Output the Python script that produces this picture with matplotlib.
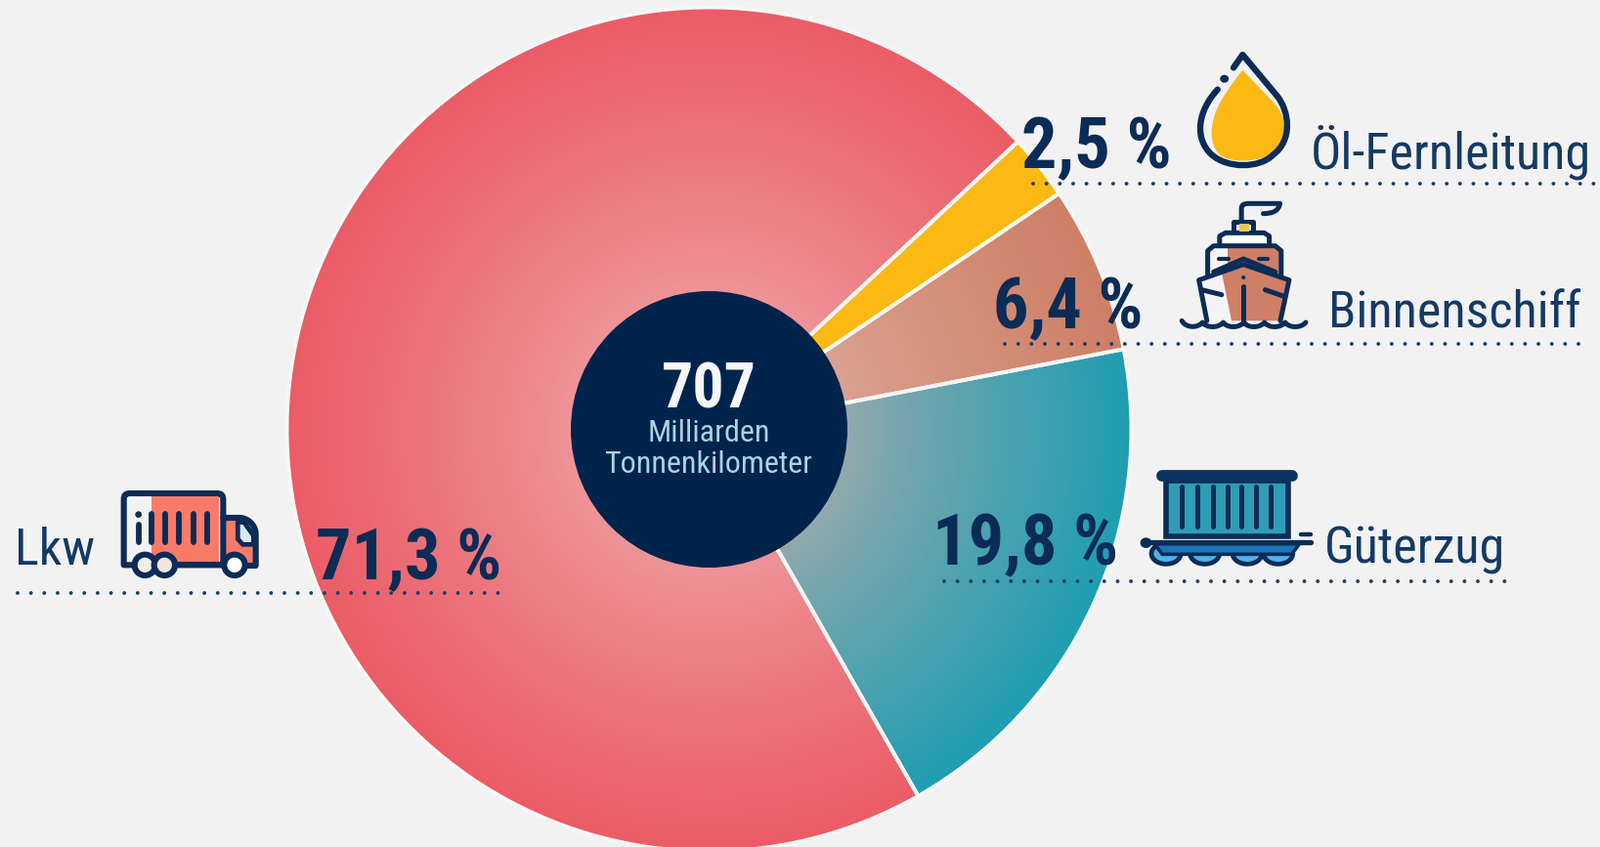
from __future__ import annotations

import matplotlib

matplotlib.use("Agg")
import matplotlib.pyplot as plt
import numpy as np
from matplotlib.colors import to_rgb
from matplotlib.patches import Circle, Ellipse, PathPatch, Polygon, Rectangle
from matplotlib.path import Path
from matplotlib.transforms import Affine2D

WIDTH, HEIGHT = 1637, 867
TOTAL = "707"
UNIT_LINES = ["Milliarden", "Tonnenkilometer"]

# Shares in percent, counter-clockwise from the upper right edge of the Lkw slice
modes = ["Lkw", "Güterzug", "Binnenschiff", "Öl-Fernleitung"]
shares = [71.3, 19.8, 6.4, 2.5]

NAVY = "#0B2C56"
HOLE = "#00234B"
BACKGROUND = "#F2F2F2"
CENTER = (725.5, HEIGHT - 439.5)
RADIUS = 432
HOLE_RADIUS = 141.5
FONT = ["Roboto Condensed", "Archivo Narrow", "Liberation Sans", "DejaVu Sans"]

slice_colors = {
    "Lkw": ("#EE9599", "#EB5C66"),
    "Güterzug": ("#93A9AC", "#1F9EB2"),
    "Binnenschiff": ("#DAA291", "#CE7F66"),
    "Öl-Fernleitung": ("#FDB913", "#FDB913"),
}
# percent x, percent baseline, name x, name baseline, dotted line x0, x1, y
label_layout = {
    "Lkw": (323, 593, 15, 578, 18, 512, 607),
    "Güterzug": (954, 578, 1355, 577, 966, 1541, 595),
    "Binnenschiff": (1016, 336, 1359, 336, 1028, 1617, 352),
    "Öl-Fernleitung": (1045, 172, 1341, 172, 1057, 1632, 188),
}


def flip(y):
    return HEIGHT - y


def make_path(*segments):
    verts, codes = [], []
    for seg in segments:
        if len(seg) == 3 and isinstance(seg[0], tuple):
            verts += list(seg)
            codes += [Path.CURVE4] * 3
        else:
            verts.append(seg)
            codes.append(Path.LINETO if codes else Path.MOVETO)
    return Path(verts, codes)


def radial_fill(ax, wedge, inner, outer):
    xx, yy = np.meshgrid(np.arange(WIDTH) + 0.5, np.arange(HEIGHT) + 0.5)
    dist = np.hypot(xx - CENTER[0], yy - CENTER[1])
    t = np.clip((dist - HOLE_RADIUS) / (RADIUS - HOLE_RADIUS), 0, 1)[..., None] ** 0.85
    rgb = (1 - t) * np.array(to_rgb(inner)) + t * np.array(to_rgb(outer))
    im = ax.imshow(rgb, extent=(0, WIDTH, 0, HEIGHT), origin="lower", zorder=1, interpolation="bilinear")
    im.set_clip_path(wedge)


def icon_transform(ax, x0, y0, sx, sy=3.0):
    return Affine2D().scale(1 / sx, -1 / sy).translate(x0, HEIGHT - y0) + ax.transData


def stroke(ax, tr, path, lw=3.4, fc="none", ec=NAVY, z=6):
    ax.add_patch(PathPatch(path, fc=fc, ec=ec, lw=lw, transform=tr, zorder=z, capstyle="round", joinstyle="round"))


def draw_drop(ax):
    tr = icon_transform(ax, 1000, 30, 2.4615)
    gold = make_path(
        (668, 125), (750, 230),
        ((785, 280), (778, 345), (742, 380)),
        ((715, 408), (635, 412), (610, 385)),
        ((580, 350), (588, 285), (605, 240)),
        ((618, 205), (645, 160), (668, 125)),
    )
    stroke(ax, tr, gold, lw=0, fc="#FDB913", ec="none", z=5)
    outline = make_path(
        (645, 118), (668, 78), (755, 205),
        ((785, 250), (795, 340), (745, 385)),
        ((710, 428), (630, 428), (590, 385)),
        ((545, 335), (555, 250), (605, 185)),
    )
    stroke(ax, tr, outline, lw=4.6)
    ax.add_patch(Ellipse((622, 152), 22, 24, fc=NAVY, ec="none", transform=tr, zorder=6))


def draw_ship(ax):
    tr = icon_transform(ax, 1000, 30, 2.4615)
    salmon = "#CE7F66"
    lw = 3.6
    funnel = make_path((665, 585), (665, 550), ((665, 538), (672, 535), (685, 535)), (762, 535),
                       ((758, 558), (745, 565), (720, 566)))
    stroke(ax, tr, funnel, lw=lw)
    stroke(ax, tr, make_path((645, 625), (645, 590), (695, 590), (695, 625)), lw=lw, fc="#E8F1F8")
    ax.add_patch(Rectangle((660, 598), 24, 22, fc="#EDC65A", ec="none", transform=tr, zorder=7))
    stroke(ax, tr, make_path((610, 665), (610, 635), (625, 625), (722, 625), (735, 635), (735, 665)), lw=lw, fc="white")
    ax.add_patch(Polygon([(582, 670), (630, 670), (630, 760), (582, 760)], fc="#F4F4F4", ec="none", transform=tr, zorder=5))
    ax.add_patch(Polygon([(630, 670), (762, 670), (762, 760), (630, 760)], fc=salmon, ec="none", transform=tr, zorder=5))
    stroke(ax, tr, make_path((580, 760), (580, 680), (595, 665), (750, 665), (765, 680), (765, 760)), lw=lw)
    for x in (620, 720):
        stroke(ax, tr, make_path((x - 12, 706), (x + 12, 706)), lw=3.0)
    hull = [(558, 770), (670, 722), (785, 770), (763, 895), (578, 895)]
    ax.add_patch(Polygon(hull, fc="#F4F4F4", ec="none", transform=tr, zorder=6))
    ax.add_patch(Polygon([(615, 745), (670, 722), (785, 770), (763, 895), (640, 895)], fc=salmon, ec="none", transform=tr, zorder=6))
    stroke(ax, tr, make_path((578, 895), (558, 770), (670, 722), (785, 770), (763, 895)), lw=lw, z=7)
    stroke(ax, tr, make_path((595, 745), (670, 705), (750, 745)), lw=lw, z=7)
    stroke(ax, tr, make_path((670, 790), (670, 900)), lw=lw, z=7)
    stroke(ax, tr, make_path((565, 800), (615, 815)), lw=lw, z=7)
    stroke(ax, tr, make_path((725, 800), (772, 820)), lw=lw, z=7)
    ax.add_patch(Ellipse((670, 762), 10, 12, fc=NAVY, ec="none", transform=tr, zorder=7))
    wave = [(515, 895)]
    for x in range(515, 825, 52):
        wave.append(((x + 10, 918), (x + 40, 918), (x + 52, 900)))
    stroke(ax, tr, make_path(*wave), lw=lw, z=8)


def draw_wagon(ax):
    tr = icon_transform(ax, 940, 460, 2.529)
    ax.add_patch(Rectangle((640, 95), 315, 172, fc="#2E9DB5", ec=NAVY, lw=4.0, transform=tr, zorder=5))
    stroke(ax, tr, make_path((630, 80), (965, 80)), lw=8.5, ec="#0B3560", z=6)
    for x in (680, 720, 760, 798, 835, 873, 910):
        stroke(ax, tr, make_path((x, 115), (x, 238)), lw=3.6)
    for cx in (640, 740, 850, 930):
        ax.add_patch(Ellipse((cx, 320), 76, 64, fc="#4FB3E8", ec=NAVY, lw=3.4, transform=tr, zorder=5))
    ax.add_patch(Polygon([(610, 290), (985, 290), (965, 322), (630, 322)], fc="#1B75BC", ec=NAVY, lw=2.6, transform=tr, zorder=6))
    stroke(ax, tr, make_path((590, 285), (1015, 285)), lw=3.8, z=7)
    stroke(ax, tr, make_path((990, 262), (1015, 262)), lw=3.2, z=7)
    ax.add_patch(Ellipse((588, 287), 30, 32, fc=NAVY, ec="none", transform=tr, zorder=7))


def draw_truck(ax):
    tr = icon_transform(ax, 0, 480, 3.0)
    salmon = "#FA7A68"
    lw = 4.4
    ax.add_patch(Rectangle((465, 85), 208, 205, fc=salmon, ec="none", transform=tr, zorder=5))
    body = make_path((410, 295), (380, 295), (380, 95), ((380, 80), (385, 75), (400, 75)), (665, 75),
                     ((680, 75), (685, 80), (685, 95)), (685, 295), (540, 295))
    stroke(ax, tr, body, lw=lw)
    cab_fill = [(690, 155), (740, 155), (780, 195), (780, 290), (690, 290)]
    ax.add_patch(Polygon(cab_fill, fc=salmon, ec="none", transform=tr, zorder=5))
    window = [(730, 162), (750, 165), (778, 205), (778, 232), (745, 232), (730, 215)]
    ax.add_patch(Polygon(window, fc="#D9EAF5", ec=NAVY, lw=3.4, transform=tr, zorder=6))
    cab = make_path((685, 150), (740, 150), ((770, 155), (785, 180), (785, 200)), (785, 297), (755, 297))
    stroke(ax, tr, cab, lw=lw)
    stroke(ax, tr, make_path((540, 295), (685, 295)), lw=lw)
    for x in (465, 508, 550, 595, 635):
        stroke(ax, tr, make_path((x, 138), (x, 225)), lw=4.2)
    stroke(ax, tr, make_path((425, 170), (425, 225)), lw=4.2)
    ax.add_patch(Ellipse((425, 140), 20, 20, fc=NAVY, ec="none", transform=tr, zorder=6))
    for cx, fill in ((445, "#F4EDE8"), (505, "#F4E4DF"), (720, "#FFFFFF")):
        ax.add_patch(Ellipse((cx, 295), 64, 64, fc=fill, ec=NAVY, lw=lw, transform=tr, zorder=7))


def main() -> None:
    fig = plt.figure(figsize=(WIDTH / 100, HEIGHT / 100), dpi=100, facecolor=BACKGROUND)
    ax = fig.add_axes([0, 0, 1, 1])

    wedges, _ = ax.pie(
        shares,
        startangle=43.0,
        radius=RADIUS,
        center=CENTER,
        wedgeprops={"linewidth": 2.8, "edgecolor": "#F6F6F6", "zorder": 2},
    )
    for wedge, mode in zip(wedges, modes):
        wedge.set_facecolor("none")
        radial_fill(ax, wedge, *slice_colors[mode])

    ax.add_patch(Circle(CENTER, HOLE_RADIUS, fc=HOLE, ec="none", zorder=3))
    ax.set_xlim(0, WIDTH)
    ax.set_ylim(0, HEIGHT)
    ax.set_aspect("auto")
    ax.axis("off")

    ax.text(725, flip(418), TOTAL, color="#F4F6F8", fontsize=46, fontweight="bold", family=FONT,
            ha="center", va="baseline", zorder=4)
    for line, y in zip(UNIT_LINES, (452, 484)):
        ax.text(725, flip(y), line, color="#A9D3E5", fontsize=23, family=FONT, ha="center", va="baseline", zorder=4)

    for mode, share in zip(modes, shares):
        px, py, nx, ny, x0, x1, ly = label_layout[mode]
        ax.plot([x0, x1], [flip(ly), flip(ly)], color="#1C3D66", lw=2.8, zorder=9,
                linestyle=(0, (0.01, 3.5)), dash_capstyle="round")
        ax.text(px, flip(py), f"{share:.1f} %".replace(".", ","), color=NAVY, fontsize=52, fontweight="bold",
                family=FONT, ha="left", va="baseline", zorder=10)
        ax.text(nx, flip(ny), mode, color="#143A63", fontsize=37.5, family=FONT, ha="left", va="baseline", zorder=10)

    draw_drop(ax)
    draw_ship(ax)
    draw_wagon(ax)
    draw_truck(ax)

    fig.savefig("out.png", dpi=100, facecolor=BACKGROUND)
    plt.close(fig)


if __name__ == "__main__":
    main()
